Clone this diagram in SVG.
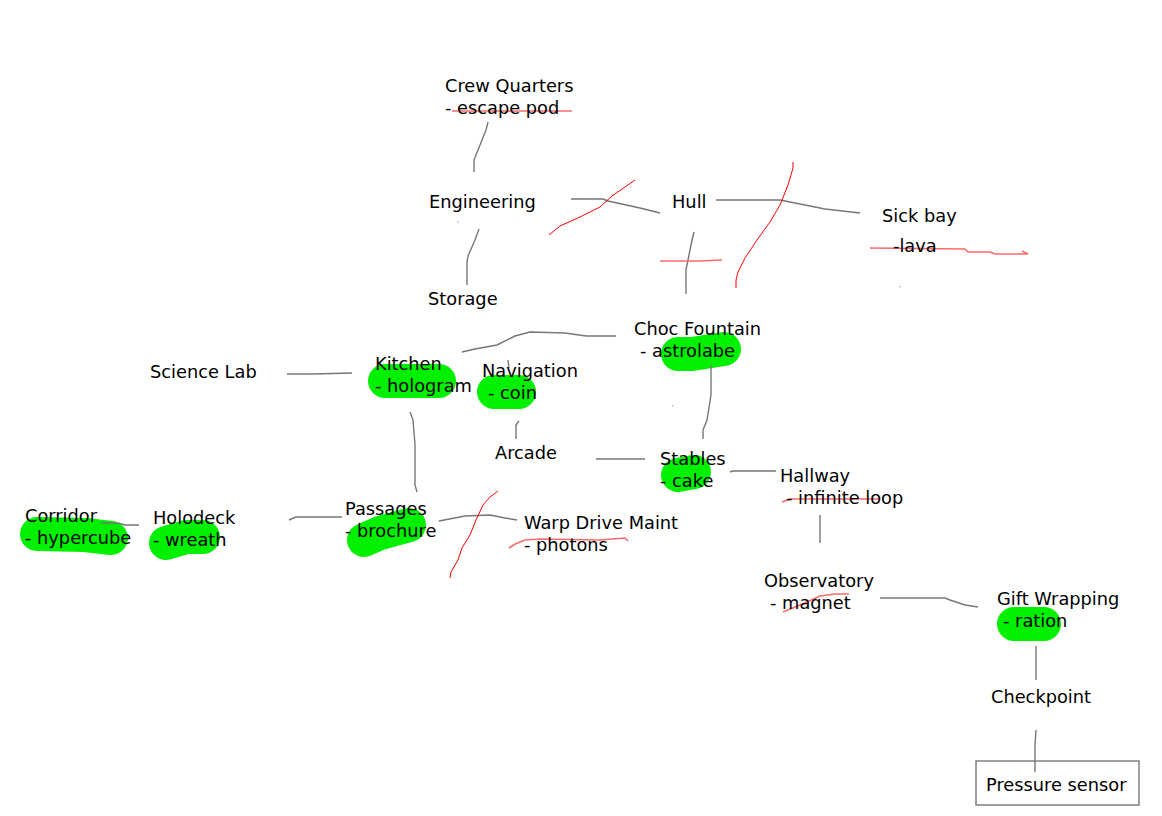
<svg xmlns="http://www.w3.org/2000/svg" width="1162" height="816" viewBox="0 0 1162 816">
<style>
text{font-family:"DejaVu Sans",sans-serif;font-size:17.8px;fill:#000}
.b{fill:none;stroke:#00f000;stroke-width:34;stroke-linecap:round;stroke-linejoin:round}
.c{fill:none;stroke:#777;stroke-width:1.4;stroke-linejoin:round}
.r{fill:none;stroke:#ff0000;stroke-width:1}
.s{fill:none;stroke:#ff6a6a;stroke-width:1.6}
.d{fill:#bbb}
</style>
<rect width="1162" height="816" fill="#fff"/>
<g id="highlights">
<path class="b" d="M385 381H439"/>
<path class="b" d="M494 392H519"/>
<path class="b" d="M678 354L692 354L724 349"/>
<path class="b" d="M678 475L694 472"/>
<path class="b" d="M37 534L85 535L111 538"/>
<path class="b" d="M166 543L186 537L203 537"/>
<path class="b" d="M364 540L380 533L409 525"/>
<path class="b" d="M1014 624H1044"/>
</g>
<g id="connectors">
<path class="c" d="M488 122L486 130L478 150L474 160L474 172"/>
<path class="c" d="M479 229L475 240L468 256L467 262L467 285"/>
<path class="c" d="M571 199L603 199L608 201L640 208L660 213"/>
<path class="c" d="M694 232L692 240L688 260L686 270L686 294"/>
<path class="c" d="M716 200L780 200L800 204L825 209L860 213"/>
<path class="c" d="M462 352L475 349L497 345L515 336L530 332L565 333L586 336L616 336"/>
<path class="c" d="M287 374L313 374L352 373"/>
<path class="c" d="M410 412L413 420L415 445L415 485L417 492"/>
<path class="c" d="M508 360L509 368"/>
<path class="c" d="M516 439L516 425L519 421"/>
<path class="c" d="M596 459H645"/>
<path class="c" d="M711 365L711 395L707 420L703 430L703 439"/>
<path class="c" d="M730 472L733 471L776 471"/>
<path class="c" d="M820 515V543"/>
<path class="c" d="M880 598L945 598L950 600L965 605L978 607"/>
<path class="c" d="M1036 646V680"/>
<path class="c" d="M1036 730L1035 745L1035 772"/>
<path class="c" d="M101 523L118 523L125 525L139 525"/>
<path class="c" d="M289 520L296 517L342 517"/>
<path class="c" d="M439 521L465 516L490 515L505 518L517 520"/>
<rect class="d" x="457" y="221" width="1.5" height="1.5"/>
<rect class="d" x="899" y="286" width="1.5" height="1.5"/>
<rect class="d" x="672" y="405" width="1.5" height="1.5"/>
</g>
<g id="strikes">
<path class="s" d="M452 111H572"/>
<path class="r" d="M549 235L560 226L580 217L600 207L612 196L635 180"/>
<path class="s" d="M660 261L700 261L722 260"/>
<path class="r" d="M793 162L793 168L788 185L780 205L770 222L757 240L745 258L738 272L736 280L736 288"/>
<path class="s" d="M870 248L965 249L968 252L990 252L995 254L1028 254L1022 251"/>
<path class="r" d="M498 491L490 497L483 505L476 520L470 535L462 548L458 560L451 572L450 578"/>
<path class="s" d="M509 548L515 544L525 540L540 539L600 540L625 538L628 541"/>
<path class="s" d="M782 502L790 499H880"/>
<path class="s" d="M783 612L800 605L820 596L835 594L849 594"/>
</g>
<g id="crew-quarters"><text x="445" y="92">Crew Quarters</text><text x="445" y="114">- escape pod</text></g>
<g id="engineering"><text x="429" y="208">Engineering</text></g>
<g id="storage"><text x="428" y="305">Storage</text></g>
<g id="hull"><text x="672" y="208">Hull</text></g>
<g id="sick-bay"><text x="882" y="222">Sick bay</text><text x="893" y="252">-lava</text></g>
<g id="choc-fountain"><text x="634" y="335">Choc Fountain</text><text x="640" y="357">- astrolabe</text></g>
<g id="science-lab"><text x="150" y="378">Science Lab</text></g>
<g id="kitchen"><text x="375" y="370">Kitchen</text><text x="375" y="392">- hologram</text></g>
<g id="navigation"><text x="482" y="377">Navigation</text><text x="488" y="399">- coin</text></g>
<g id="arcade"><text x="495" y="459">Arcade</text></g>
<g id="stables"><text x="660" y="465">Stables</text><text x="660" y="487">- cake</text></g>
<g id="hallway"><text x="780" y="482">Hallway</text><text x="786" y="504">- infinite loop</text></g>
<g id="corridor"><text x="25" y="522">Corridor</text><text x="25" y="544">- hypercube</text></g>
<g id="holodeck"><text x="153" y="524">Holodeck</text><text x="153" y="546">- wreath</text></g>
<g id="passages"><text x="345" y="515">Passages</text><text x="345" y="537">- brochure</text></g>
<g id="warp-drive-maint"><text x="524" y="529">Warp Drive Maint</text><text x="524" y="551">- photons</text></g>
<g id="observatory"><text x="764" y="587">Observatory</text><text x="770" y="609">- magnet</text></g>
<g id="gift-wrapping"><text x="997" y="605">Gift Wrapping</text><text x="1003" y="627">- ration</text></g>
<g id="checkpoint"><text x="991" y="703">Checkpoint</text></g>
<g id="pressure-sensor"><rect x="976" y="761" width="163" height="44" fill="none" stroke="#777" stroke-width="1.4"/><text x="986" y="791">Pressure sensor</text></g>
</svg>
